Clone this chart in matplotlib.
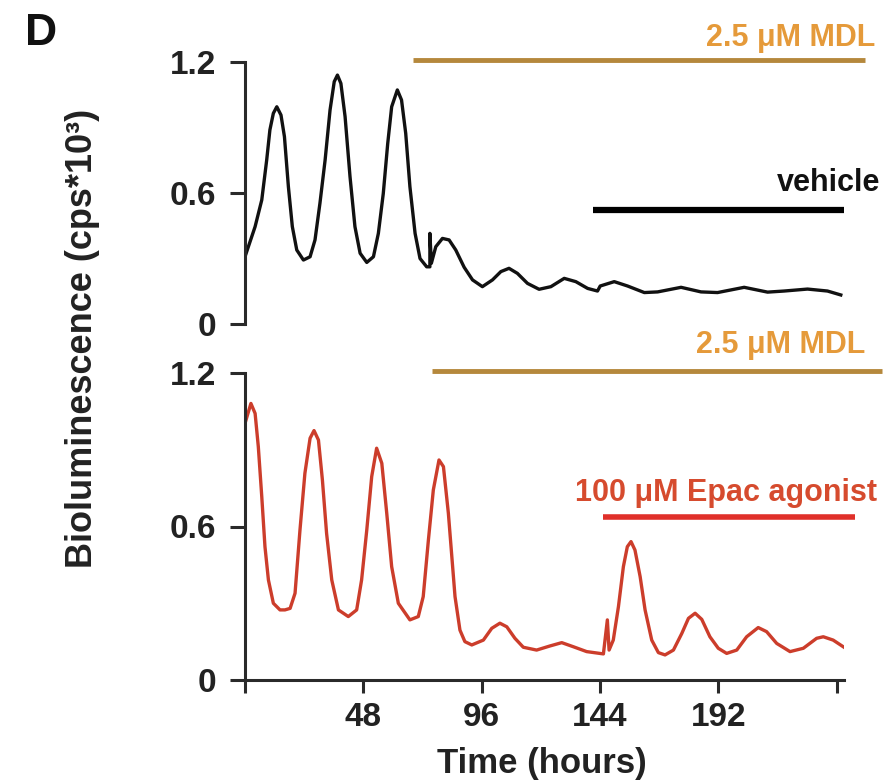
import numpy as np
import matplotlib
matplotlib.use("Agg")
import matplotlib.pyplot as plt

plt.rcParams['font.family'] = ['Liberation Sans', 'DejaVu Sans']
plt.rcParams['font.weight'] = 'bold'

# ---- data (hours, cps*10^3) ----
top_t = [0, 4.1, 6.8, 8.8, 10.1, 11.5, 12.9, 14.6, 16.0, 17.6, 19.2, 21.0, 23.7,
         26.4, 28.4, 30.4, 32.5, 34.5, 36.2, 37.5, 38.9, 40.6, 42.6, 44.6, 46.7,
         49.4, 52.1, 54.1, 56.1, 57.9, 59.5, 61.8, 63.5, 65.2, 66.9, 69.0, 71.0,
         73.7, 75.0, 75.0, 75.6, 77.4, 80.1, 82.8, 85.5, 88.9, 92.3, 96.3, 100.4,
         103.8, 107.1, 110.5, 114.6, 119.3, 124.1, 129.5, 134.2, 139.0, 143.0,
         144.1, 149.8, 155.2, 162.0, 167.4, 176.9, 185.0, 191.7, 202.5, 212.0,
         218.7, 228.2, 236.3, 241.7]
top_y = [0.308, 0.446, 0.568, 0.751, 0.889, 0.965, 0.995, 0.957, 0.858, 0.629,
         0.446, 0.339, 0.293, 0.308, 0.385, 0.553, 0.751, 0.980, 1.110, 1.140,
         1.102, 0.950, 0.675, 0.446, 0.324, 0.282, 0.308, 0.415, 0.598, 0.827,
         0.995, 1.072, 1.026, 0.873, 0.629, 0.415, 0.300, 0.262, 0.262, 0.415,
         0.278, 0.354, 0.392, 0.385, 0.339, 0.260, 0.202, 0.171, 0.202, 0.240,
         0.255, 0.232, 0.186, 0.159, 0.171, 0.209, 0.194, 0.163, 0.151, 0.174,
         0.194, 0.174, 0.144, 0.147, 0.168, 0.147, 0.144, 0.168, 0.146, 0.151,
         0.160, 0.151, 0.133]

bot_t = [0, 2.4, 4.1, 5.4, 6.8, 8.1, 9.5, 11.5, 14.2, 16.2, 18.3, 20.3, 22.3,
         24.3, 26.4, 28.0, 29.8, 31.4, 33.1, 35.2, 37.9, 41.9, 45.3, 47.3, 49.4,
         51.4, 53.4, 55.5, 57.5, 59.5, 62.2, 66.9, 70.3, 72.3, 74.4, 76.4, 78.7,
         80.5, 82.5, 85.2, 87.2, 89.2, 92.0, 96.7, 100.1, 103.4, 106.2, 109.5,
         112.9, 118.3, 123.7, 128.5, 133.2, 138.6, 145.4, 147.0, 147.7, 149.4,
         151.5, 153.5, 155.1, 156.6, 158.2, 160.3, 162.3, 165.0, 167.7, 170.4,
         173.8, 177.2, 179.9, 182.6, 185.3, 188.6, 192.0, 195.4, 199.5, 203.5,
         208.2, 211.6, 215.7, 221.1, 226.5, 231.9, 234.6, 238.6, 243.0]
bot_y = [1.003, 1.081, 1.042, 0.912, 0.717, 0.521, 0.391, 0.300, 0.274, 0.274,
         0.280, 0.339, 0.586, 0.808, 0.945, 0.975, 0.938, 0.782, 0.573, 0.391,
         0.274, 0.248, 0.274, 0.391, 0.586, 0.795, 0.906, 0.847, 0.652, 0.443,
         0.300, 0.235, 0.248, 0.326, 0.547, 0.743, 0.860, 0.834, 0.652, 0.326,
         0.195, 0.150, 0.137, 0.156, 0.202, 0.222, 0.208, 0.163, 0.128, 0.117,
         0.133, 0.146, 0.130, 0.111, 0.102, 0.235, 0.117, 0.156, 0.287, 0.443,
         0.521, 0.541, 0.508, 0.404, 0.274, 0.156, 0.107, 0.098, 0.117, 0.182,
         0.241, 0.261, 0.237, 0.169, 0.124, 0.104, 0.117, 0.169, 0.205, 0.189,
         0.143, 0.111, 0.124, 0.163, 0.169, 0.156, 0.128]

# treatment bars: (start, end, y level)
top_mdl = [68.2, 251.5, 1.209]
top_vehicle = [141.2, 243.4, 0.522]
bot_mdl = [75.9, 258.4, 1.208]
bot_epac = [145.2, 247.5, 0.637]

xticks = [0, 48, 96, 144, 192, 240]
xtick_labels = ['', '48', '96', '144', '192', '']
yticks = [0, 0.6, 1.2]
ytick_labels = ['0', '0.6', '1.2']

W, H = 889, 784
fig = plt.figure(figsize=(W / 100, H / 100), dpi=100)

ax_left = 245 / W
ax_w = 599 / W
ax1 = fig.add_axes([ax_left, (H - 324) / H, ax_w, 262 / H])
ax2 = fig.add_axes([ax_left, (H - 680) / H, ax_w, 307 / H])

axis_col = '#2a2a2a'
gold = '#b5883c'
orange_txt = '#e59a3a'
red_line = '#cc3d2b'
red_txt = '#d64b2e'

for ax in (ax1, ax2):
    ax.set_xlim(0, 243)
    ax.set_ylim(0, 1.2)
    for s in ['top', 'right']:
        ax.spines[s].set_visible(False)
    ax.spines['left'].set_linewidth(2.2)
    ax.spines['left'].set_color(axis_col)
    ax.set_yticks(yticks)
    ax.set_yticklabels(ytick_labels)
    ax.tick_params(axis='y', direction='out', length=11, width=2.2,
                   color=axis_col, labelsize=24, pad=10, labelcolor='#222222')
    ax.patch.set_alpha(0)

# top panel has no x axis
ax1.spines['bottom'].set_visible(False)
ax1.set_xticks([])
ax1.set_yticks([0], minor=True)
ax1.tick_params(axis='y', which='minor', direction='in', length=8, width=2.2,
                color=axis_col)

ax2.spines['bottom'].set_linewidth(2.2)
ax2.spines['bottom'].set_color(axis_col)
ax2.set_xticks(xticks)
ax2.set_xticklabels(xtick_labels)
ax2.tick_params(axis='x', direction='out', length=9.5, width=2.2,
                color=axis_col, labelsize=24, pad=6, labelcolor='#222222')
ax2.set_yticks([1.2], minor=True)
ax2.tick_params(axis='y', which='minor', direction='in', length=8, width=2.2,
                color=axis_col)

# traces
ax1.plot(top_t, top_y, color='#111111', lw=2.4, solid_joinstyle='round')
ax2.plot(bot_t, bot_y, color=red_line, lw=2.4, solid_joinstyle='round')

# treatment bars and labels
ax1.plot(top_mdl[:2], [top_mdl[2]] * 2, color=gold, lw=3.5, clip_on=False,
         solid_capstyle='butt')
ax1.text(255.6, 1.31, '2.5 \u03bcM MDL', color=orange_txt, fontsize=22,
         ha='right', va='center', clip_on=False)
ax1.plot(top_vehicle[:2], [top_vehicle[2]] * 2, color='black', lw=4.5,
         solid_capstyle='butt')
ax1.text(257.6, 0.646, 'vehicle', color='#111111', fontsize=22,
         ha='right', va='center', clip_on=False)

ax2.plot(bot_mdl[:2], [bot_mdl[2]] * 2, color=gold, lw=3.5, clip_on=False,
         solid_capstyle='butt')
ax2.text(251.5, 1.31, '2.5 \u03bcM MDL', color=orange_txt, fontsize=22,
         ha='right', va='center', clip_on=False)
ax2.plot(bot_epac[:2], [bot_epac[2]] * 2, color='#e0302a', lw=4, clip_on=False,
         solid_capstyle='butt')
ax2.text(256.4, 0.731, '100 \u03bcM Epac agonist', color=red_txt, fontsize=22,
         ha='right', va='center', clip_on=False)

# axis labels
fig.text(83 / W, 1 - 338 / H, 'Bioluminescence (cps*10\u00b3)', rotation=90,
         ha='center', va='center', fontsize=26, color='#222222')
fig.text(542 / W, 1 - 763 / H, 'Time (hours)', ha='center', va='center',
         fontsize=25, color='#222222')
fig.text(25 / W, 1 - 45 / H, 'D', ha='left', va='baseline', fontsize=32,
         color='#111111')

fig.savefig('out.png', dpi=100)
